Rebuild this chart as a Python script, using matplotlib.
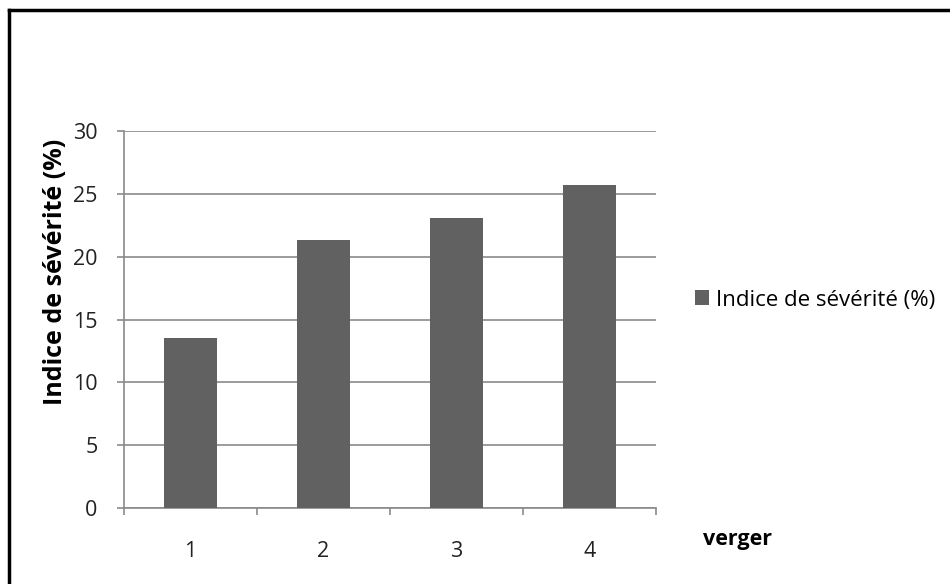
import numpy as np
import matplotlib.pyplot as plt
from matplotlib.lines import Line2D
from matplotlib.patches import Patch

plt.rcParams['font.family'] = ['Open Sans', 'DejaVu Sans']

vergers = ['1', '2', '3', '4']
severite = [13.5, 21.3, 23.1, 25.7]
y_ticks = [0, 5, 10, 15, 20, 25, 30]

bar_color = '#616161'
grid_color = '#8a8a8a'

fig = plt.figure(figsize=(9.5, 5.84), dpi=100)
W, H = 950, 584

# axes box in pixels: x 124..656, y 131..508 (from top)
ax = fig.add_axes([124 / W, 1 - 508 / H, (656 - 124) / W, (508 - 131) / H])

x = np.arange(len(vergers))
ax.bar(x, severite, width=0.4, color=bar_color, zorder=3)

ax.set_xlim(-0.5, len(vergers) - 0.5)
ax.set_ylim(0, 30)
ax.set_yticks(y_ticks)
ax.set_yticklabels([str(v) for v in y_ticks], fontsize=15.5, color='#222222')
ax.yaxis.grid(True, color=grid_color, linewidth=1.2, zorder=0)

ax.set_xticks(x)
ax.set_xticklabels(vergers, fontsize=15.5, color='#222222')
ax.tick_params(axis='x', length=0, pad=24)
# tick marks between categories
ax.set_xticks(np.arange(-0.5, len(vergers)), minor=True)
ax.tick_params(axis='x', which='minor', length=5, color=grid_color, width=1.2, direction='out')
ax.tick_params(axis='y', length=5, color=grid_color, width=1.2, direction='out', pad=14)

for side in ['top', 'right']:
    ax.spines[side].set_visible(False)
for side in ['left', 'bottom']:
    ax.spines[side].set_color(grid_color)
    ax.spines[side].set_linewidth(1.2)

fig.text(56 / W, 1 - 272 / H, 'Indice de sévérité (%)', fontsize=18, fontweight='bold',
         rotation=90, ha='center', va='center')

fig.text(703 / W, 1 - 540 / H, 'verger', fontsize=15.5, fontweight='bold',
         ha='left', va='center')

handle = Patch(facecolor=bar_color, edgecolor='none')
fig.legend([handle], ['Indice de sévérité (%)'], loc='center left',
           bbox_to_anchor=(675 / W, 1 - 300 / H), frameon=False, fontsize=16,
           handlelength=0.65, handleheight=0.65, handletextpad=0.3)

# outer frame (only top and left edges fall inside the image)
fig.add_artist(Line2D([9 / W, 9 / W], [0, 1 - 10 / H], transform=fig.transFigure,
                      color='black', linewidth=2.5))
fig.add_artist(Line2D([9 / W, 1], [1 - 10 / H, 1 - 10 / H], transform=fig.transFigure,
                      color='black', linewidth=2.5))

fig.savefig('out.png', dpi=100)
